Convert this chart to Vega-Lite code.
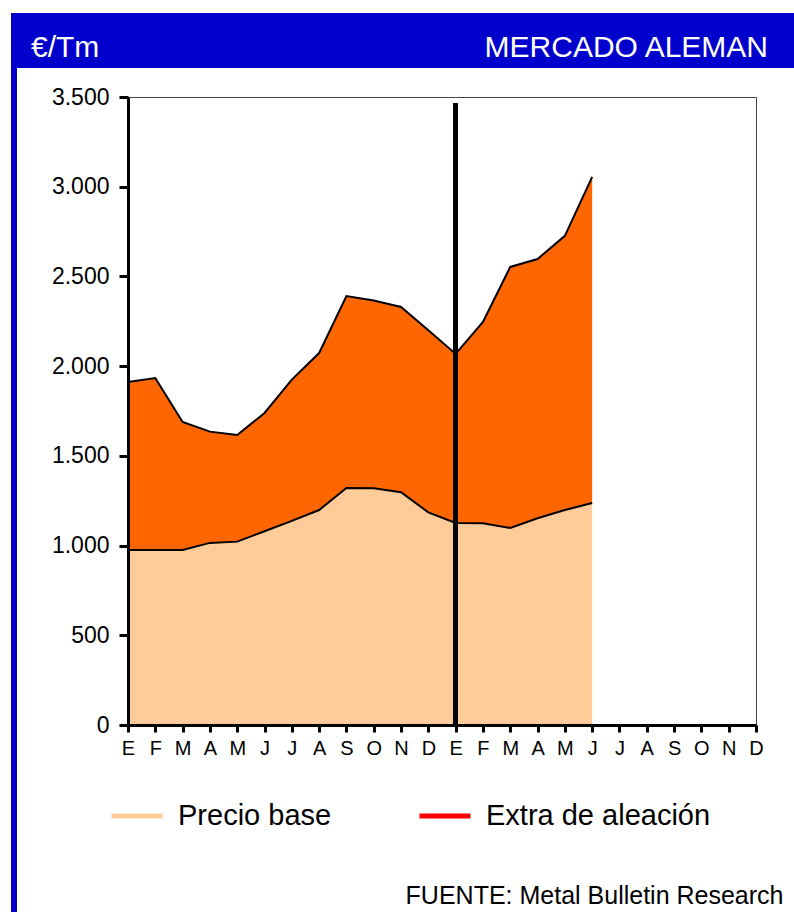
{
  "$schema": "https://vega.github.io/schema/vega-lite/v6.json",
  "background": "white",
  "padding": {"left": 11, "top": 13, "right": 0, "bottom": 0},
  "bounds": "flush",
  "spacing": 0,
  "config": {
    "font": "Liberation Sans",
    "view": {"stroke": null},
    "axis": {"labelFont": "Liberation Sans", "titleFont": "Liberation Sans"},
    "legend": {"labelFont": "Liberation Sans"}
  },
  "hconcat": [
    {
      "width": 6,
      "height": 899,
      "view": {"fill": "#0000CC", "stroke": null},
      "data": {"values": []},
      "mark": {"type": "text"},
      "encoding": {}
    },
    {
      "bounds": "flush",
      "spacing": 29,
      "vconcat": [
        {
          "width": 777,
          "height": 55,
          "view": {"fill": "#0000CC", "stroke": null},
          "layer": [
            {
              "data": {"values": [{"lado": 0, "texto": "€/Tm"}]},
              "mark": {"type": "text", "align": "left", "baseline": "alphabetic", "dx": 14, "dy": 16, "fontSize": 30, "color": "white", "font": "Liberation Sans"},
              "encoding": {
                "x": {"field": "lado", "type": "quantitative", "scale": {"domain": [0, 1], "nice": false, "zero": false}, "axis": null},
                "text": {"field": "texto"}
              }
            },
            {
              "data": {"values": [{"lado": 1, "texto": "MERCADO ALEMAN"}]},
              "mark": {"type": "text", "align": "right", "baseline": "alphabetic", "dx": -26, "dy": 16, "fontSize": 30, "color": "white", "font": "Liberation Sans"},
              "encoding": {
                "x": {"field": "lado", "type": "quantitative", "scale": {"domain": [0, 1], "nice": false, "zero": false}, "axis": null},
                "text": {"field": "texto"}
              }
            }
          ]
        },
        {
          "bounds": "flush",
          "spacing": 110,
          "hconcat": [
            {
              "width": 1,
              "height": 628,
              "data": {"values": []},
              "mark": {"type": "text"},
              "encoding": {}
            },
            {
              "width": 628,
              "height": 628,
              "view": {"stroke": "#444444", "strokeWidth": 1},
              "data": {
                "values": [
                  {"i": 0, "serie": "Precio base", "valor": 975}, {"i": 0, "serie": "Extra de aleación", "valor": 937},
                  {"i": 1, "serie": "Precio base", "valor": 975}, {"i": 1, "serie": "Extra de aleación", "valor": 959},
                  {"i": 2, "serie": "Precio base", "valor": 975}, {"i": 2, "serie": "Extra de aleación", "valor": 714},
                  {"i": 3, "serie": "Precio base", "valor": 1015}, {"i": 3, "serie": "Extra de aleación", "valor": 620},
                  {"i": 4, "serie": "Precio base", "valor": 1022}, {"i": 4, "serie": "Extra de aleación", "valor": 594},
                  {"i": 5, "serie": "Precio base", "valor": 1080}, {"i": 5, "serie": "Extra de aleación", "valor": 659},
                  {"i": 6, "serie": "Precio base", "valor": 1138}, {"i": 6, "serie": "Extra de aleación", "valor": 787},
                  {"i": 7, "serie": "Precio base", "valor": 1198}, {"i": 7, "serie": "Extra de aleación", "valor": 875},
                  {"i": 8, "serie": "Precio base", "valor": 1321}, {"i": 8, "serie": "Extra de aleación", "valor": 1070},
                  {"i": 9, "serie": "Precio base", "valor": 1320}, {"i": 9, "serie": "Extra de aleación", "valor": 1046},
                  {"i": 10, "serie": "Precio base", "valor": 1297}, {"i": 10, "serie": "Extra de aleación", "valor": 1033},
                  {"i": 11, "serie": "Precio base", "valor": 1185}, {"i": 11, "serie": "Extra de aleación", "valor": 1015},
                  {"i": 12, "serie": "Precio base", "valor": 1126}, {"i": 12, "serie": "Extra de aleación", "valor": 942},
                  {"i": 13, "serie": "Precio base", "valor": 1125}, {"i": 13, "serie": "Extra de aleación", "valor": 1121},
                  {"i": 14, "serie": "Precio base", "valor": 1098}, {"i": 14, "serie": "Extra de aleación", "valor": 1455},
                  {"i": 15, "serie": "Precio base", "valor": 1152}, {"i": 15, "serie": "Extra de aleación", "valor": 1445},
                  {"i": 16, "serie": "Precio base", "valor": 1198}, {"i": 16, "serie": "Extra de aleación", "valor": 1528},
                  {"i": 17, "serie": "Precio base", "valor": 1237}, {"i": 17, "serie": "Extra de aleación", "valor": 1818}
                ]
              },
              "transform": [
                {"stack": "valor", "groupby": ["i"], "sort": [{"field": "serie", "order": "descending"}], "as": ["v0", "v1"]}
              ],
              "encoding": {
                "x": {
                  "field": "i", "type": "quantitative",
                  "scale": {"domain": [0, 23], "nice": false, "zero": false},
                  "axis": {
                    "values": [0, 1, 2, 3, 4, 5, 6, 7, 8, 9, 10, 11, 12, 13, 14, 15, 16, 17, 18, 19, 20, 21, 22, 23],
                    "tickCount": 24,
                    "labelExpr": "['E','F','M','A','M','J','J','A','S','O','N','D'][datum.value % 12]",
                    "tickSize": 7, "tickWidth": 3, "tickColor": "black",
                    "domainColor": "black", "domainWidth": 3,
                    "labelFontSize": 20, "labelColor": "black", "labelPadding": 6,
                    "labelFlush": false, "labelOverlap": false, "grid": false, "zindex": 1,
                    "title": "FUENTE: Metal Bulletin Research",
                    "titleX": 655, "titleY": 178, "titleAlign": "right", "titleAnchor": null,
                    "titleBaseline": "alphabetic", "titleFontSize": 25, "titleFontWeight": "normal", "titleColor": "black"
                  }
                },
                "y": {
                  "field": "v1", "type": "quantitative",
                  "scale": {"domain": [0, 3500], "nice": false},
                  "axis": {
                    "values": [0, 500, 1000, 1500, 2000, 2500, 3000, 3500],
                    "labelExpr": "replace(format(datum.value, ','), ',', '.')",
                    "tickSize": 9, "tickWidth": 3, "tickColor": "black",
                    "domainColor": "black", "domainWidth": 3,
                    "labelFontSize": 23, "labelColor": "black", "labelPadding": 10,
                    "labelFlush": false, "grid": false, "title": null, "zindex": 1
                  }
                }
              },
              "layer": [
                {
                  "mark": {"type": "area", "opacity": 1},
                  "encoding": {
                    "y2": {"field": "v0"},
                    "fill": {
                      "field": "serie", "type": "nominal",
                      "scale": {"domain": ["Extra de aleación", "Precio base"], "range": ["#FF6600", "#FFCC99"]},
                      "legend": null
                    }
                  }
                },
                {
                  "mark": {"type": "line", "color": "black", "strokeWidth": 2},
                  "encoding": {
                    "detail": {"field": "serie", "type": "nominal"}
                  }
                },
                {
                  "mark": {"type": "line", "strokeOpacity": 0},
                  "encoding": {
                    "stroke": {
                      "field": "serie", "type": "nominal",
                      "scale": {"domain": ["Precio base", "Extra de aleación"], "range": ["#FFCC99", "#FF0000"]},
                      "legend": {
                        "orient": "none", "legendX": 98, "legendY": 775, "direction": "horizontal",
                        "title": null, "symbolType": "stroke", "symbolSize": 2601, "symbolStrokeWidth": 5,
                        "symbolOpacity": 1, "labelFontSize": 29, "labelColor": "black", "labelOffset": 13,
                        "columnPadding": 77, "padding": 0, "labelLimit": 400,
                        "encode": {"symbols": {"update": {"opacity": {"value": 1}, "strokeOpacity": {"value": 1}}}}
                      }
                    }
                  }
                },
                {
                  "mark": {"type": "rule", "strokeWidth": 4, "color": "black"},
                  "encoding": {
                    "x": {"datum": 12, "type": "quantitative"},
                    "y": {"datum": 0, "type": "quantitative"},
                    "y2": {"datum": 3465}
                  }
                }
              ]
            }
          ]
        }
      ]
    }
  ]
}
